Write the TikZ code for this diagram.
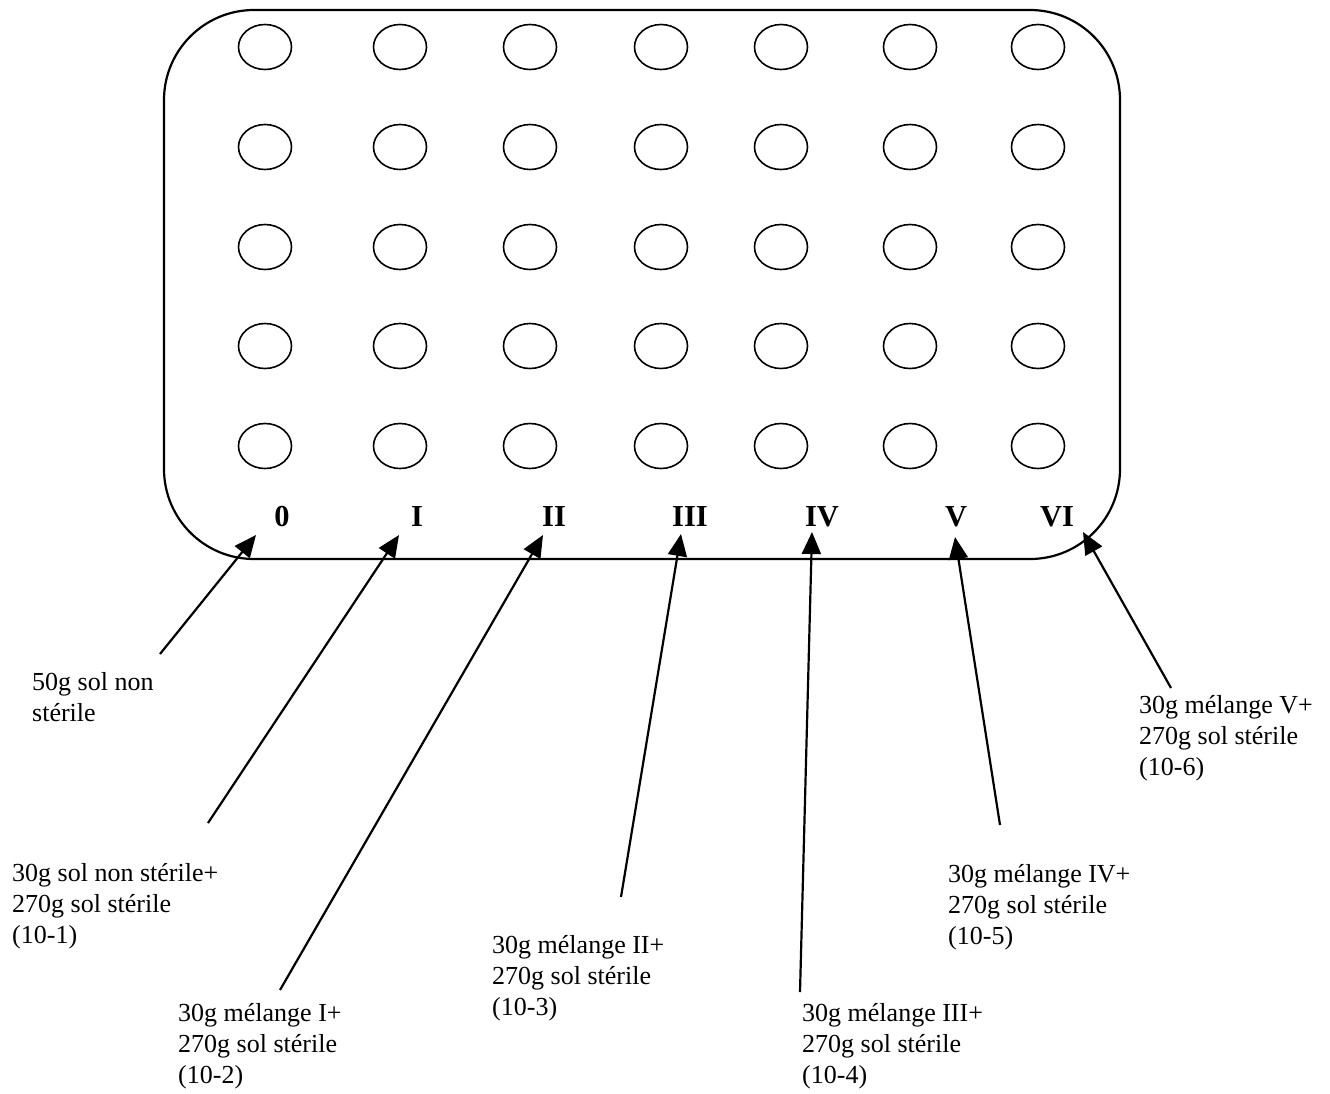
\documentclass[tikz,border=0pt]{standalone}
\usepackage{fontspec}
\setmainfont{Liberation Serif}
\usetikzlibrary{arrows.meta,shapes.geometric}
\begin{document}
\begin{tikzpicture}[x=1pt,y=-1pt,
  well/.style={draw,line width=1.6pt,ellipse,minimum width=53pt,minimum height=45pt,inner sep=0pt},
  plate/.style={draw,line width=2.2pt,rounded corners=90pt},
  lbl/.style={font=\fontsize{30.5}{36}\selectfont\bfseries,anchor=base,inner sep=0pt},
  desc/.style={font=\fontsize{26}{31}\selectfont,anchor=base west,inner sep=0pt},
  arr/.style={line width=2.2pt,-{Triangle[length=22pt,width=19pt]}}]
\useasboundingbox (0,0) rectangle (1330,1093);
\draw[plate] (164,10) rectangle (1120,559);
% wells
\foreach \c/\x in {1/265,2/400,3/530,4/661,5/781,6/910,7/1038}{
  \foreach \r/\y in {1/47,2/147,3/247,4/346,5/446}{
    \node[well] (w\c\r) at (\x,\y) {};
  }
}
% column labels
\node[lbl] (l0) at (282,526) {0};
\node[lbl] (l1) at (417,526) {I};
\node[lbl] (l2) at (554,526) {II};
\node[lbl] (l3) at (690,526) {III};
\node[lbl] (l4) at (822,526) {IV};
\node[lbl] (l5) at (956,526) {V};
\node[lbl] (l6) at (1057,526) {VI};
% descriptions
\newcommand{\blk}[1]{\begin{tabular}[t]{@{}l@{}}#1\end{tabular}}
\node[desc] (d0) at (32,690) {\blk{50g sol non\\stérile}};
\node[desc] (d1) at (12,881) {\blk{30g sol non stérile+\\270g sol stérile\\(10-1)}};
\node[desc] (d2) at (178,1021) {\blk{30g mélange I+\\270g sol stérile\\(10-2)}};
\node[desc] (d3) at (492,953) {\blk{30g mélange II+\\270g sol stérile\\(10-3)}};
\node[desc] (d4) at (802,1021) {\blk{30g mélange III+\\270g sol stérile\\(10-4)}};
\node[desc] (d5) at (948,882) {\blk{30g mélange IV+\\270g sol stérile\\(10-5)}};
\node[desc] (d6) at (1139,713) {\blk{30g mélange V+\\270g sol stérile\\(10-6)}};
% arrow endpoints
\coordinate (t0) at (160,654);  \coordinate (h0) at (256,535);
\coordinate (t1) at (208,823);  \coordinate (h1) at (399,535);
\coordinate (t2) at (280,990);  \coordinate (h2) at (543,535);
\coordinate (t3) at (621,897);  \coordinate (h3) at (681,534);
\coordinate (t4) at (800,992);  \coordinate (h4) at (812,532);
\coordinate (t5) at (1000,825); \coordinate (h5) at (955,537);
\coordinate (t6) at (1171,688); \coordinate (h6) at (1083,532);
\foreach \i in {0,...,6}{\draw[arr] (t\i) -- (h\i);}
\end{tikzpicture}
\end{document}
